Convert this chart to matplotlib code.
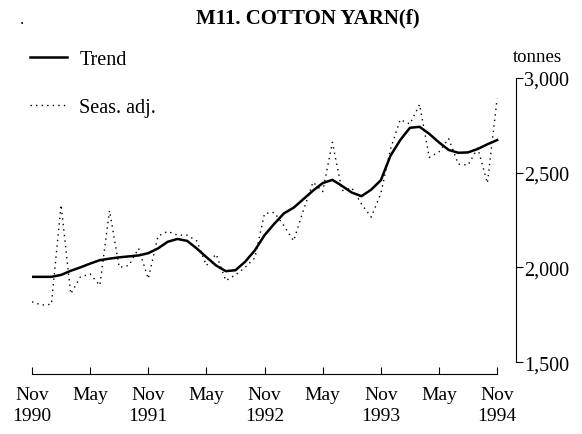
import matplotlib
matplotlib.use('Agg')
import matplotlib.pyplot as plt

# monthly data, Nov 1990 .. Nov 1994 (tonnes)
months = list(range(49))
trend = [1950, 1950, 1950, 1960, 1982, 2000, 2020, 2038, 2046, 2053,
         2058, 2063, 2075, 2100, 2135, 2150, 2140, 2100, 2054, 2010,
         1980, 1985, 2030, 2090, 2170, 2230, 2285, 2315, 2360, 2405,
         2445, 2462, 2430, 2395, 2376, 2410, 2460, 2590, 2672, 2737,
         2742, 2705, 2660, 2620, 2605, 2607, 2625, 2650, 2672]
seas_adj = [1818, 1801, 1805, 2330, 1860, 1950, 1965, 1905, 2300, 2000,
            2010, 2100, 1940, 2165, 2190, 2170, 2170, 2140, 2010, 2070,
            1930, 1960, 2000, 2050, 2285, 2290, 2220, 2140, 2300, 2450,
            2400, 2660, 2405, 2420, 2335, 2265, 2390, 2625, 2780, 2757,
            2860, 2580, 2610, 2680, 2545, 2540, 2630, 2445, 2890]

x_ticks = [0, 6, 12, 18, 24, 30, 36, 42, 48]
x_labels = ['Nov\n1990', 'May', 'Nov\n1991', 'May', 'Nov\n1992',
            'May', 'Nov\n1993', 'May', 'Nov\n1994']
y_ticks = [1500, 2000, 2500, 3000]
y_labels = ['1,500', '2,000', '2,500', '3,000']

plt.rcParams['font.family'] = ['Liberation Serif', 'DejaVu Serif']

fig = plt.figure(figsize=(5.82, 4.35), dpi=100)
ax = fig.add_axes([32 / 582, 60 / 435, (516 - 32) / 582, (375 - 69.5) / 435])

ax.plot(months, trend, color='black', linewidth=1.8, label='Trend')
ax.plot(months, seas_adj, color='black', linewidth=1.0,
        linestyle=(0, (1, 3)), label='Seas. adj.')

ax.set_xlim(0, 49.95)
ax.set_ylim(1437, 3050)

ax.spines['top'].set_visible(False)
ax.spines['left'].set_visible(False)
ax.spines['bottom'].set_bounds(0, 48)
ax.spines['right'].set_bounds(1500, 3000)

ax.set_xticks(x_ticks)
ax.set_xticklabels(x_labels, fontsize=14, linespacing=1.25)
ax.tick_params(axis='x', direction='in', length=5, pad=9)

ax.yaxis.tick_right()
ax.set_yticks(y_ticks)
ax.set_yticklabels(y_labels, fontsize=14.5)
ax.tick_params(axis='y', direction='out', length=5, pad=1)

fig.text(537 / 582, 1 - 58 / 435, 'tonnes', fontsize=13.5,
         ha='center', va='center')
fig.text(308 / 582, 1 - 18 / 435, 'M11. COTTON YARN(f)', fontsize=15,
         fontweight='bold', ha='center', va='center')
fig.text(22 / 582, 1 - 20 / 435, '.', fontsize=12, ha='center', va='center')

fig.legend(loc='upper left', bbox_to_anchor=(30 / 582, 1 - 51 / 435),
           frameon=False, fontsize=14.5, handlelength=1.85,
           handletextpad=0.6, labelspacing=1.45, borderpad=0,
           borderaxespad=0)

fig.savefig('out.png', dpi=100)
